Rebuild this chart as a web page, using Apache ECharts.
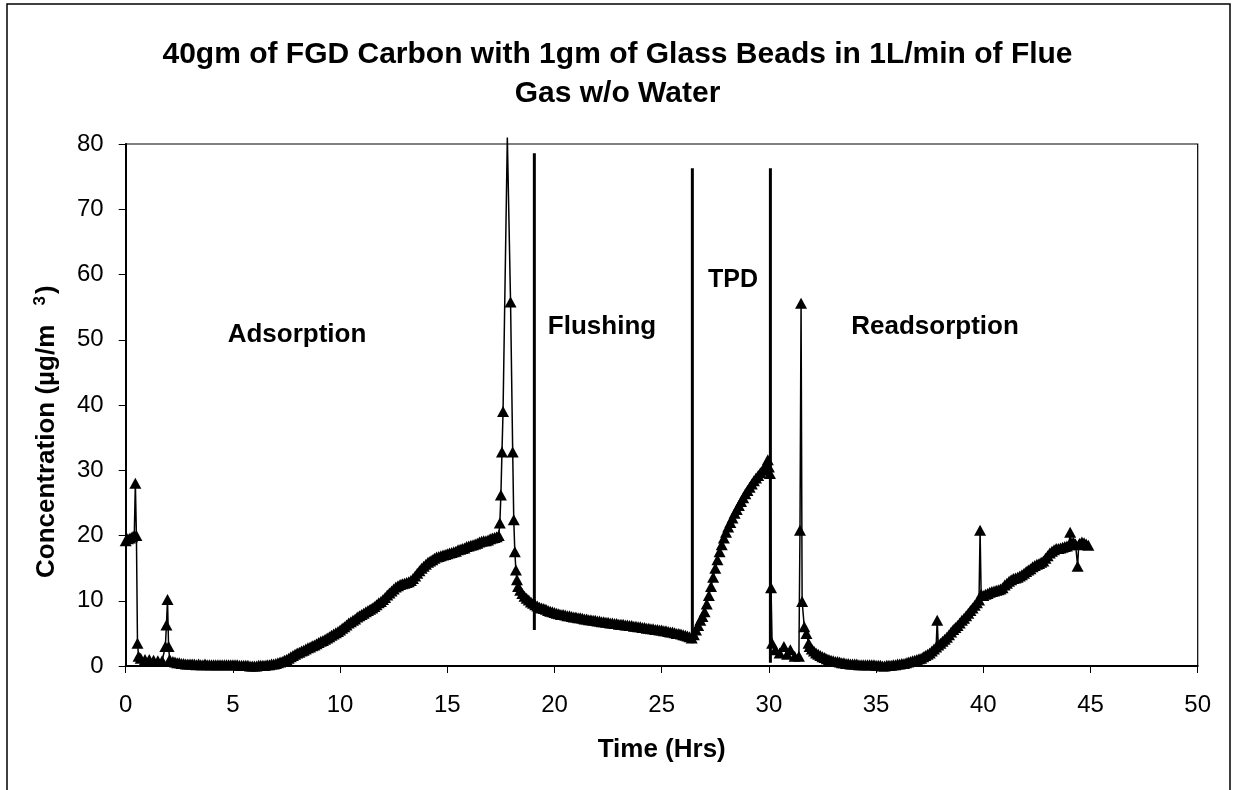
<!DOCTYPE html>
<html>
<head>
<meta charset="utf-8">
<script src="https://cdn.jsdelivr.net/npm/echarts@6/dist/echarts.min.js"></script>
<style>
html,body{margin:0;padding:0;background:#fff;}
#chart{width:1235px;height:790px;}
</style>
</head>
<body>
<div id="chart"></div>
<script>
// ---- Data ----
var titleLines = ['40gm of FGD Carbon with 1gm of Glass Beads in 1L/min of Flue', 'Gas w/o Water'];
var xAxisTitle = 'Time (Hrs)';
var yAxisTitle = ['Concentration (µg/m ', '3', ')'];
var xTicks = [0, 5, 10, 15, 20, 25, 30, 35, 40, 45, 50];
var yTicks = [0, 10, 20, 30, 40, 50, 60, 70, 80];
var phaseNames = ['Adsorption', 'Flushing', 'TPD', 'Readsorption'];

// [time (h), concentration (µg/m3)]
var adsorption = [
 [0.0,19.2],[0.1,19.5],[0.2,19.6],[0.3,19.8],[0.4,20.0],[0.45,28.0],[0.5,20.0],[0.55,3.5],[0.6,1.5],[0.7,1.2],[0.9,1.0],[1.1,1.0],[1.3,0.9],[1.5,0.8],[1.7,0.8],[1.85,3.0],[1.9,6.3],[1.95,10.2],[2.0,3.0],[2.05,1.0],
 [2.2,0.7],[2.3,0.6],[2.4,0.5],[2.5,0.5],[2.6,0.4],[2.7,0.4],[2.8,0.3],[2.9,0.3],
 [3.0,0.3],[3.1,0.3],[3.2,0.3],[3.3,0.2],[3.4,0.3],[3.5,0.2],[3.6,0.2],[3.7,0.3],[3.8,0.2],[3.9,0.2],
 [4.0,0.2],[4.1,0.2],[4.2,0.2],[4.3,0.2],[4.4,0.2],[4.5,0.2],[4.6,0.2],[4.7,0.2],[4.8,0.2],[4.9,0.2],
 [5.0,0.2],[5.1,0.2],[5.2,0.2],[5.3,0.1],[5.4,0.1],[5.5,0.1],[5.6,0.1],[5.7,0.1],[5.8,0.0],[5.9,0.0],
 [6.0,0.0],[6.1,0.0],[6.2,0.1],[6.3,0.1],[6.4,0.1],[6.5,0.1],[6.6,0.2],[6.7,0.2],[6.8,0.3],[6.9,0.3],
 [7.0,0.4],[7.1,0.5],[7.2,0.6],[7.3,0.7],[7.4,0.9],[7.5,1.0],[7.6,1.2],[7.7,1.4],[7.8,1.6],[7.9,1.8],
 [8.0,2.0],[8.1,2.1],[8.2,2.3],[8.3,2.4],[8.4,2.6],[8.5,2.8],[8.6,2.9],[8.7,3.1],[8.8,3.2],[8.9,3.4],
 [9.0,3.6],[9.1,3.8],[9.2,3.9],[9.3,4.1],[9.4,4.3],[9.5,4.5],[9.6,4.7],[9.7,4.9],[9.8,5.1],[9.9,5.3],
 [10.0,5.5],[10.1,5.8],[10.2,6.0],[10.3,6.3],[10.4,6.6],[10.5,6.8],[10.6,7.0],[10.7,7.2],[10.8,7.5],[10.9,7.7],
 [11.0,7.9],[11.1,8.1],[11.2,8.3],[11.3,8.5],[11.4,8.7],[11.5,8.9],[11.6,9.1],[11.7,9.4],[11.8,9.7],[11.9,9.9],
 [12.0,10.2],[12.1,10.5],[12.2,10.9],[12.3,11.2],[12.4,11.5],[12.5,11.8],[12.6,12.1],[12.7,12.3],[12.8,12.5],[12.9,12.6],
 [13.0,12.7],[13.1,12.8],[13.2,12.9],[13.3,13.1],[13.4,13.4],[13.5,13.8],[13.6,14.2],[13.7,14.6],[13.8,15.0],[13.9,15.3],
 [14.0,15.6],[14.1,15.9],[14.2,16.1],[14.3,16.3],[14.4,16.5],[14.5,16.7],[14.6,16.8],[14.7,16.9],[14.8,17.0],[14.9,17.1],
 [15.0,17.2],[15.1,17.3],[15.2,17.4],[15.3,17.5],[15.4,17.6],[15.5,17.8],[15.6,17.9],[15.7,18.0],[15.8,18.1],[15.9,18.3],
 [16.0,18.4],[16.1,18.5],[16.2,18.6],[16.3,18.7],[16.4,18.8],[16.5,19.0],[16.6,19.1],[16.7,19.2],[16.8,19.2],[16.9,19.3],
 [17.0,19.5],[17.1,19.6],[17.2,19.7],[17.3,19.8],[17.4,20.0],
 [17.45,21.9],[17.5,26.2],[17.55,32.8],[17.6,39.0],[17.8,81.0],[17.95,55.8],[18.05,32.8],[18.1,22.4],[18.15,17.5],[18.2,14.7],[18.25,13.2],[18.3,12.2]
];
var flushing = [
 [18.4,11.6],[18.5,11.1],[18.6,10.7],[18.7,10.4],[18.8,10.1],[18.9,9.8],
 [19.0,9.6],[19.1,9.4],[19.2,9.2],[19.3,9.0],[19.4,8.9],[19.5,8.8],[19.6,8.7],[19.7,8.5],[19.8,8.4],[19.9,8.3],
 [20.0,8.2],[20.1,8.1],[20.2,8.0],[20.3,7.9],[20.4,7.9],[20.5,7.8],[20.6,7.7],[20.7,7.7],[20.8,7.6],[20.9,7.5],
 [21.0,7.5],[21.1,7.4],[21.2,7.4],[21.3,7.3],[21.4,7.2],[21.5,7.2],[21.6,7.1],[21.7,7.1],[21.8,7.0],[21.9,7.0],
 [22.0,6.9],[22.1,6.9],[22.2,6.8],[22.3,6.8],[22.4,6.7],[22.5,6.7],[22.6,6.6],[22.7,6.6],[22.8,6.5],[22.9,6.5],
 [23.0,6.4],[23.1,6.4],[23.2,6.4],[23.3,6.3],[23.4,6.3],[23.5,6.2],[23.6,6.2],[23.7,6.1],[23.8,6.1],[23.9,6.0],
 [24.0,6.0],[24.1,5.9],[24.2,5.9],[24.3,5.8],[24.4,5.8],[24.5,5.7],[24.6,5.7],[24.7,5.6],[24.8,5.6],[24.9,5.5],
 [25.0,5.5],[25.1,5.4],[25.2,5.4],[25.3,5.3],[25.4,5.2],[25.5,5.2],[25.6,5.1],[25.7,5.0],[25.8,5.0],[25.9,4.9],
 [26.0,4.8],[26.1,4.7],[26.2,4.6],[26.3,4.5],[26.4,4.3]
];
var tpd = [
 [26.5,4.8],[26.6,5.5],[26.7,6.2],[26.8,7.0],[26.9,7.6],[27.0,8.3],[27.1,9.5],[27.2,10.8],[27.3,12.2],[27.4,13.6],
 [27.5,15.0],[27.6,16.3],[27.7,17.5],[27.8,18.6],[27.9,19.6],[28.0,20.5],[28.1,21.3],[28.2,22.0],[28.3,22.7],[28.4,23.4],
 [28.5,24.0],[28.6,24.6],[28.7,25.2],[28.8,25.8],[28.9,26.4],[29.0,26.9],[29.1,27.4],[29.2,27.9],[29.3,28.4],[29.4,28.8],
 [29.5,29.2],[29.6,29.6],[29.7,30.0],[29.8,30.4],[29.9,30.9],[29.95,31.6],[30.0,30.5],[30.05,29.5],[30.1,12.0],[30.15,3.5]
];
var readsorption = [
 [30.3,2.5],[30.5,2.0],[30.7,3.0],[30.85,1.8],[31.0,2.5],[31.2,1.5],[31.4,1.5],[31.45,20.8],[31.5,55.6],[31.55,9.9],[31.65,6.0],[31.75,5.0],[31.85,3.5],
 [31.9,3.0],[32.0,2.6],[32.1,2.3],[32.2,2.0],[32.3,1.8],[32.4,1.6],[32.5,1.4],[32.6,1.3],[32.7,1.1],[32.8,1.0],[32.9,0.9],
 [33.0,0.8],[33.1,0.7],[33.2,0.7],[33.3,0.6],[33.4,0.5],[33.5,0.5],[33.6,0.4],[33.7,0.4],[33.8,0.3],[33.9,0.3],
 [34.0,0.3],[34.1,0.3],[34.2,0.2],[34.3,0.2],[34.4,0.2],[34.5,0.2],[34.6,0.2],[34.7,0.2],[34.8,0.2],[34.9,0.2],
 [35.0,0.1],[35.1,0.1],[35.2,0.1],[35.3,0.0],[35.4,0.0],[35.5,0.1],[35.6,0.1],[35.7,0.1],[35.8,0.2],[35.9,0.2],
 [36.0,0.3],[36.1,0.3],[36.2,0.4],[36.3,0.4],[36.4,0.5],[36.5,0.6],[36.6,0.7],[36.7,0.8],[36.8,0.9],[36.9,1.0],
 [37.0,1.1],[37.1,1.2],[37.2,1.4],[37.3,1.6],[37.4,1.8],[37.5,2.0],[37.6,2.3],[37.7,2.6],[37.8,2.9],[37.85,7.0],[37.9,3.2],
 [38.0,3.5],[38.1,3.8],[38.2,4.1],[38.3,4.4],[38.4,4.8],[38.5,5.2],[38.6,5.6],[38.7,5.9],[38.8,6.2],[38.9,6.6],
 [39.0,7.0],[39.1,7.3],[39.2,7.7],[39.3,8.1],[39.4,8.5],[39.5,8.9],[39.6,9.3],[39.7,9.7],[39.8,10.1],[39.85,20.8],[39.9,11.0],
 [40.0,10.8],[40.1,11.0],[40.2,11.1],[40.3,11.3],[40.4,11.4],[40.5,11.5],[40.6,11.6],[40.7,11.7],[40.8,11.8],[40.9,12.0],
 [41.0,12.4],[41.1,12.7],[41.2,13.0],[41.3,13.2],[41.4,13.4],[41.5,13.5],[41.6,13.6],[41.7,13.8],[41.8,14.0],[41.9,14.2],
 [42.0,14.5],[42.1,14.7],[42.2,14.9],[42.3,15.2],[42.4,15.4],[42.5,15.6],[42.6,15.7],[42.7,15.9],[42.8,16.1],[42.9,16.5],
 [43.0,16.9],[43.1,17.3],[43.2,17.6],[43.3,17.8],[43.4,18.0],[43.5,18.0],[43.6,18.1],[43.7,18.2],[43.8,18.3],[43.9,18.4],
 [44.0,18.6],[44.05,20.5],[44.1,18.8],[44.2,19.0],[44.3,18.7],[44.4,15.3],[44.45,18.6],[44.5,18.8],[44.6,19.0],[44.7,18.9],[44.8,18.7],[44.9,18.5]
];

// vertical phase-separator lines: time, bottom, top
var dividerT = [19.06, 26.43, 30.07];
var dividerBottom = [5.5, 3.5, 0.5];
var dividerTop = [78.6, 76.3, 76.3];

// ---- Build series ----
var yMax = yTicks[yTicks.length - 1];
var mainData = [].concat(adsorption, flushing, tpd, readsorption).map(function (p) {
  return p[1] > yMax ? { value: p, symbol: 'none' } : { value: p };
});

var series = [{
  type: 'line',
  data: mainData,
  symbol: 'triangle',
  symbolSize: [12, 11],
  clip: false,
  lineStyle: { color: '#000', width: 1.5 },
  itemStyle: { color: '#000' },
  animation: false,
  z: 3
}];
dividerT.forEach(function (t, i) {
  series.push({
    type: 'line',
    data: [[t, dividerBottom[i]], [t, dividerTop[i]]],
    symbol: 'none',
    lineStyle: { color: '#000', width: 3 },
    animation: false,
    z: 4
  });
});

var chart = echarts.init(document.getElementById('chart'), null, { renderer: 'canvas' });
var FONT = '"Liberation Sans", Arial, sans-serif';
var phaseStyle = { fontFamily: FONT, fontWeight: 'bold', fontSize: 26, fill: '#000', align: 'center', verticalAlign: 'middle' };

chart.setOption({
  backgroundColor: '#fff',
  animation: false,
  title: {
    text: titleLines.join('\n'),
    left: 'center',
    top: 30,
    textStyle: { fontFamily: FONT, fontWeight: 'bold', fontSize: 30, lineHeight: 39, color: '#000' }
  },
  grid: { left: 125.7, right: 1235 - 1197.7, top: 144, bottom: 790 - 666, show: true, borderColor: '#000', borderWidth: 1.2, backgroundColor: '#fff' },
  xAxis: {
    type: 'value', min: 0, max: 50, interval: 5,
    name: xAxisTitle, nameLocation: 'middle', nameGap: 71,
    nameTextStyle: { fontFamily: FONT, fontWeight: 'bold', fontSize: 26, color: '#000' },
    axisLine: { show: true, lineStyle: { color: '#000', width: 2 } },
    axisTick: { show: true, inside: false, length: 7, lineStyle: { color: '#000', width: 1 } },
    axisLabel: { margin: 27, fontFamily: FONT, fontSize: 24, color: '#000',
      formatter: function (v) { return xTicks.indexOf(v) >= 0 ? String(v) : ''; } },
    splitLine: { show: false }
  },
  yAxis: {
    type: 'value', min: 0, max: 80, interval: 10,
    axisLine: { show: true, lineStyle: { color: '#000', width: 2 } },
    axisTick: { show: true, inside: false, length: 7, lineStyle: { color: '#000', width: 1 } },
    axisLabel: { margin: 22, fontFamily: FONT, fontSize: 24, color: '#000',
      formatter: function (v) { return yTicks.indexOf(v) >= 0 ? String(v) : ''; } },
    splitLine: { show: false }
  },
  graphic: [
    { type: 'rect', shape: { x: 7, y: 4, width: 1223, height: 900 }, style: { fill: 'none', stroke: '#000', lineWidth: 1.5 }, z: -10, silent: true },
    { type: 'text', x: 47, y: 578, rotation: Math.PI / 2, z: 10,
      style: {
        text: '{n|' + yAxisTitle[0] + '}{s|' + yAxisTitle[1] + '}{n|' + yAxisTitle[2] + '}',
        align: 'left', verticalAlign: 'middle',
        rich: {
          n: { fontFamily: FONT, fontWeight: 'bold', fontSize: 26, fill: '#000' },
          s: { fontFamily: FONT, fontWeight: 'bold', fontSize: 17, fill: '#000', verticalAlign: 'top', padding: [0, 2, 14, 12] }
        }
      } },
    { type: 'text', x: 297, y: 335, style: Object.assign({ text: phaseNames[0] }, phaseStyle), z: 10 },
    { type: 'text', x: 602, y: 327, style: Object.assign({ text: phaseNames[1] }, phaseStyle), z: 10 },
    { type: 'text', x: 733, y: 280, style: Object.assign({ text: phaseNames[2] }, phaseStyle, { fontSize: 25 }), z: 10 },
    { type: 'text', x: 935, y: 327, style: Object.assign({ text: phaseNames[3] }, phaseStyle), z: 10 }
  ],
  series: series
});
</script>
</body>
</html>
